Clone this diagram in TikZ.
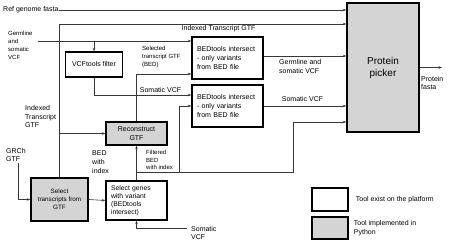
\documentclass[tikz,border=0pt]{standalone}
\usepackage{fontspec}
\setmainfont{Liberation Sans}
\usetikzlibrary{arrows.meta,positioning}

\definecolor{gris}{RGB}{212,212,212}
\definecolor{fil}{RGB}{55,55,55}

\begin{document}
\begin{tikzpicture}[
        x=1pt, y=-1pt,
        outil/.style = {draw, line width=1.4pt, align=center, inner sep=0pt,
                        font=\fontsize{7}{8.8}\selectfont},
        python/.style = {outil, fill=gris},
        lien/.style = {draw=fil, line width=0.6pt, -{Stealth[length=3.5pt,width=2.6pt]}},
        txt/.style = {inner sep=0pt, align=left, font=\fontsize{7}{8.8}\selectfont},
        ptxt/.style = {txt, font=\fontsize{6}{7.8}\selectfont}
    ]
        \useasboundingbox (0,0) rectangle (449,248);

        % Définition des outils
        \node[python, minimum width=72, minimum height=129,
              font=\fontsize{10}{12}\selectfont] (PP) at (383,67.5) {Protein\\picker};
        \node[outil, minimum width=57, minimum height=25] (VCF) at (94,64.5) {VCFtools filter};
        \node[outil, text width=61, inner xsep=5, minimum height=42, align=left]
              (BED1) at (227.5,58) {BEDtools intersect\\- only variants\\from BED file};
        \node[outil, text width=61, inner xsep=5, minimum height=42, align=left]
              (BED2) at (227.5,106) {BEDtools intersect\\- only variants\\from BED file};
        \node[python, minimum width=61, minimum height=23] (RC) at (136.5,133.5) {Reconstruct\\GTF};
        \node[outil, text width=51, inner xsep=5, minimum height=39, align=left,
              font=\fontsize{6.8}{8}\selectfont] (SG) at (136.5,200.5)
              {Select genes\\with variant\\(BEDtools\\intersect)};
        \node[python, minimum width=57, minimum height=43,
              font=\fontsize{6.3}{8}\selectfont] (ST) at (59.5,199.5) {Select\\transcripts from\\GTF};

        % Légende
        \node[outil, minimum width=36, minimum height=23] (legA) at (330,199.5) {};
        \node[python, minimum width=36, minimum height=22] (legB) at (330,228) {};
        \node[txt, right=7 of legA] (legAt) {Tool exist on the platform};
        \node[txt, right=5 of legB] (legBt) {Tool implemented in\\Python};

        % Étiquettes
        \node[txt, anchor=west] (ref) at (3,10) {Ref genome fasta};
        \node[ptxt, anchor=west] (germ) at (8,45.5) {Germline\\and\\somatic\\VCF};
        \node[txt] (idx) at (218.5,28.5) {Indexed Transcript GTF};
        \node[ptxt, anchor=west] (sel) at (142,57) {Selected\\transcript GTF\\(BED)};
        \node[txt] (som1) at (160.5,90) {Somatic VCF};
        \node[txt, anchor=west] (idx2) at (25,116.5) {Indexed\\Transcript\\GTF};
        \node[txt, anchor=west] (grch) at (6,155) {GRCh\\GTF};
        \node[txt, anchor=west] (bedi) at (92,162) {BED\\with\\index};
        \node[ptxt, anchor=west] (fbed) at (146,160) {Filtered\\BED\\with index};
        \node[txt, anchor=west] (som3) at (191,233) {Somatic\\VCF};
        \node[txt, anchor=west] (gs) at (279,66.5) {Germline and\\somatic VCF};
        \node[txt] (som2) at (302.5,99) {Somatic VCF};
        \node[txt, anchor=west] (pf) at (421,83) {Protein\\fasta};

        % Points de passage des liens
        \coordinate (g0) at (38,41);
        \coordinate (i0) at (59.5,24);
        \coordinate (v0) at (94,95);
        \coordinate (r0) at (136.5,74);
        \coordinate (f0) at (136.5,172);
        \coordinate (f1) at (293,172);
        \coordinate (f2) at (293,122);
        \coordinate (f3) at (179,172);
        \coordinate (f4) at (179,106);
        \coordinate (b1) at ([yshift=2pt]BED1.east);
        \coordinate (pf0) at (442,67.5);
        \coordinate (c0) at (18,163);
        \coordinate (s0) at (187,228);

        % Liens entre les outils
        \draw[lien] (ref.east) -- (ref.east -| PP.west);
        \draw[lien] (ST.north) -- (i0) -- (i0 -| PP.west);
        \draw[lien] (ST.north |- RC.west) -- (RC.west);
        \draw[lien] (g0) -- (g0 -| BED1.west);
        \draw[lien] (g0 -| VCF.north) -- (VCF.north);
        \draw[lien] (VCF.south) -- (v0) -- (v0 -| BED2.west);
        \draw[lien] (RC.north) -- (r0) -- (r0 -| BED1.west);
        \draw[lien] (SG.north) -- (RC.south);
        \draw[lien] (f0) -- (f1) -- (f2) -- (f2 -| PP.west);
        \draw[lien] (f3) -- (f4) -- (f4 -| BED2.west);
        \draw[lien] (b1) -- (b1 -| PP.west);
        \draw[lien] (BED2.east) -- (BED2.east -| PP.west);
        \draw[lien] (PP.east) -- (pf0);
        \draw[lien] (c0) |- (ST.west);
        \draw[lien] (ST.east) -- (SG.west);
        \draw[lien] (s0) -| (SG.south);

    \end{tikzpicture}
\end{document}
